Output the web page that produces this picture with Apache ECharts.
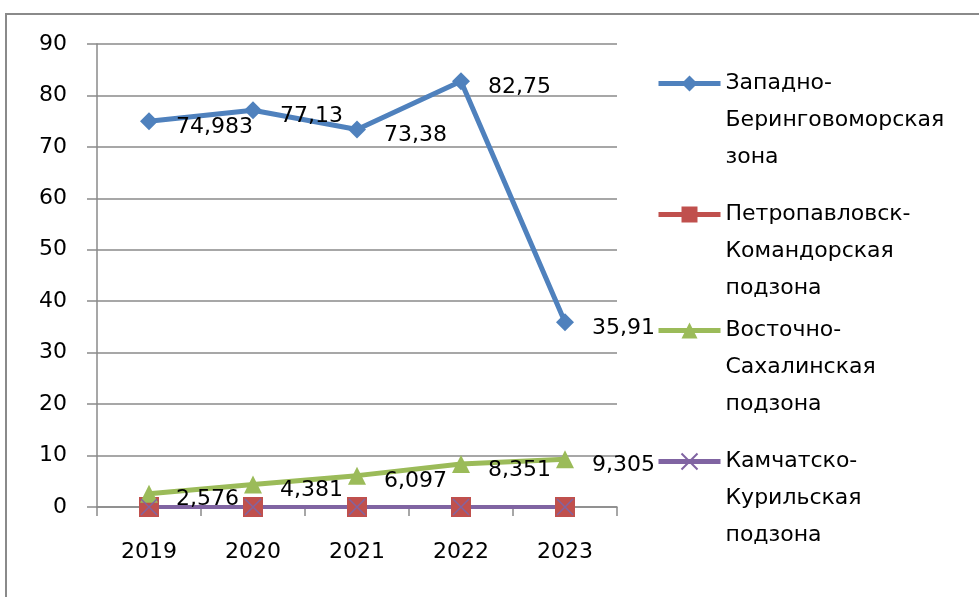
<!DOCTYPE html>
<html>
<head>
<meta charset="utf-8">
<script src="https://cdn.jsdelivr.net/npm/echarts@6/dist/echarts.min.js"></script>
<style>
  html, body { margin: 0; padding: 0; background: #fff; }
  #frame { position: absolute; left: 5px; top: 13px; width: 990px; height: 600px;
           border-left: 2px solid #8a8a8a; border-top: 2px solid #8a8a8a; }
  #chart { position: absolute; left: 0; top: 0; width: 979px; height: 597px; }
</style>
</head>
<body>
<div id="frame"></div>
<div id="chart"></div>
<script>
const years = ["2019", "2020", "2021", "2022", "2023"];
const seriesNames = [
  "Западно-\nБеринговоморская\nзона",
  "Петропавловск-\nКомандорская\nподзона",
  "Восточно-\nСахалинская\nподзона",
  "Камчатско-\nКурильская\nподзона"
];
const zapadnoBering = [74.983, 77.13, 73.38, 82.75, 35.91];
const petropavlovsk = [0, 0, 0, 0, 0];
const vostochnoSakh = [2.576, 4.381, 6.097, 8.351, 9.305];
const kamchatKuril = [0, 0, 0, 0, 0];
const yTicks = [0, 10, 20, 30, 40, 50, 60, 70, 80, 90];

const font = "DejaVu Sans";
const colors = ["#4f81bd", "#c0504d", "#9bbb59", "#8064a2"];
const legendCenters = [83, 214, 330, 461];

const dataLabel = {
  show: true,
  position: "right",
  distance: 18,
  offset: [0, 6],
  color: "#000",
  fontFamily: font,
  fontSize: 22,
  formatter: (p) => String(p.value).replace(".", ",")
};

const chart = echarts.init(document.getElementById("chart"));
chart.setOption({
  animation: false,
  textStyle: { fontFamily: font },
  grid: { left: 97, right: 362, top: 44, bottom: 90 },
  xAxis: {
    type: "category",
    data: years,
    axisLine: { lineStyle: { color: "#8a8a8a", width: 1.5 } },
    axisTick: { show: true, length: 9, lineStyle: { color: "#8a8a8a", width: 1.5 } },
    axisLabel: { color: "#000", fontSize: 22, margin: 34 }
  },
  yAxis: {
    type: "value",
    min: yTicks[0],
    max: yTicks[yTicks.length - 1],
    interval: 10,
    axisLine: { show: true, lineStyle: { color: "#8a8a8a", width: 1.5 } },
    axisTick: { show: true, length: 10, lineStyle: { color: "#8a8a8a", width: 1.5 } },
    splitLine: { lineStyle: { color: "#8a8a8a", width: 1.5 } },
    axisLabel: { color: "#000", fontSize: 22, margin: 30 }
  },
  // one legend per item so each sits where the reference puts it;
  // two blank lines put the icon level with the first text line
  legend: seriesNames.map((name, i) => ({
    data: [name],
    orient: "vertical",
    left: 656,
    top: legendCenters[i] - 92,
    padding: 0,
    itemWidth: 62,
    itemHeight: 20,
    formatter: (n) => "\n\n" + n,
    lineStyle: { width: 5 },
    textStyle: {
      color: "#000",
      fontFamily: font,
      fontSize: 22,
      lineHeight: 37
    }
  })),
  series: [
    {
      name: seriesNames[0],
      type: "line",
      data: zapadnoBering,
      color: colors[0],
      symbol: "diamond",
      symbolSize: 18,
      lineStyle: { width: 5 },
      label: dataLabel
    },
    {
      name: seriesNames[1],
      type: "line",
      data: petropavlovsk,
      color: colors[1],
      symbol: "rect",
      symbolSize: 20,
      lineStyle: { width: 4 }
    },
    {
      name: seriesNames[2],
      type: "line",
      data: vostochnoSakh,
      color: colors[2],
      symbol: "triangle",
      symbolSize: 18,
      lineStyle: { width: 5 },
      label: dataLabel
    },
    {
      name: seriesNames[3],
      type: "line",
      data: kamchatKuril,
      color: colors[3],
      symbol: "path://M0,0L10,10M10,0L0,10",
      symbolSize: 16,
      itemStyle: { borderColor: colors[3], borderWidth: 1.5 },
      lineStyle: { width: 4 }
    }
  ]
});
</script>
</body>
</html>
